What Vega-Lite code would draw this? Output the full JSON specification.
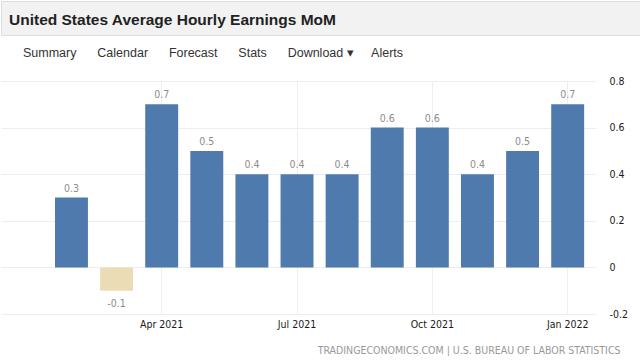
{
  "$schema": "https://vega.github.io/schema/vega-lite/v6.json",
  "padding": 0,
  "spacing": 10,
  "config": {"view": {"stroke": null}},
  "vconcat": [
    {
      "width": 640,
      "height": 34,
      "view": {"fill": "#f2f2f2", "stroke": "#dddddd"},
      "title": {"text": "United States Average Hourly Earnings MoM", "anchor": "start", "frame": "group", "orient": "top", "offset": -27, "dx": 8, "font": "Liberation Sans", "fontSize": 15.5, "fontWeight": "bold", "color": "#222222"},
      "data": {"values": []},
      "mark": "rule",
      "encoding": {}
    },
    {
      "width": 595,
      "height": 233,
      "title": {"text": "Summary\u00a0\u00a0\u00a0\u00a0\u00a0\u00a0Calendar\u00a0\u00a0\u00a0\u00a0\u00a0\u00a0Forecast\u00a0\u00a0\u00a0\u00a0\u00a0\u00a0Stats\u00a0\u00a0\u00a0\u00a0\u00a0\u00a0Download\u00a0\u25be\u00a0\u00a0\u00a0\u00a0\u00a0Alerts", "anchor": "start", "frame": "group", "offset": 17, "dx": 22, "font": "Liberation Sans", "fontSize": 12.5, "fontWeight": "normal", "color": "#333333"},
      "data": {"values": [
        {"month": "Feb 2021", "value": 0.3},
        {"month": "Mar 2021", "value": -0.1},
        {"month": "Apr 2021", "value": 0.7},
        {"month": "May 2021", "value": 0.5},
        {"month": "Jun 2021", "value": 0.4},
        {"month": "Jul 2021", "value": 0.4},
        {"month": "Aug 2021", "value": 0.4},
        {"month": "Sep 2021", "value": 0.6},
        {"month": "Oct 2021", "value": 0.6},
        {"month": "Nov 2021", "value": 0.4},
        {"month": "Dec 2021", "value": 0.5},
        {"month": "Jan 2022", "value": 0.7}
      ]},
      "encoding": {
        "x": {
          "field": "month", "type": "nominal", "sort": null,
          "scale": {"paddingInner": 0.27, "paddingOuter": 0.73, "align": 0.82},
          "axis": {
            "values": ["Apr 2021", "Jul 2021", "Oct 2021", "Jan 2022"],
            "labelAngle": 0, "domain": false, "ticks": false, "tickSize": 0,
            "grid": true, "gridColor": "#eeeeee", "bandPosition": 0.5,
            "labelPadding": 5, "labelFont": "DejaVu Sans Condensed, DejaVu Sans", "labelFontSize": 10.5, "labelColor": "#1a1a1a",
            "title": "TRADINGECONOMICS.COM | U.S. BUREAU OF LABOR STATISTICS",
            "titleFont": "DejaVu Sans Condensed, DejaVu Sans", "titleFontSize": 10.5, "titleFontWeight": "normal", "titleColor": "#999999",
            "titleX": 619, "titleAlign": "right", "titlePadding": 16
          }
        }
      },
      "layer": [
        {
          "mark": {"type": "bar"},
          "encoding": {
            "y": {
              "field": "value", "type": "quantitative",
              "scale": {"domain": [-0.2, 0.8], "nice": false, "zero": false},
              "axis": {
                "orient": "right", "values": [-0.2, 0, 0.2, 0.4, 0.6, 0.8],
                "labelExpr": "'' + datum.value",
                "domain": false, "ticks": false, "tickSize": 0, "grid": true, "gridColor": "#eeeeee",
                "labelPadding": 13, "labelFont": "DejaVu Sans Condensed, DejaVu Sans", "labelFontSize": 10.5, "labelColor": "#1a1a1a",
                "title": null
              }
            },
            "color": {"condition": {"test": "datum.value < 0", "value": "#ecdcb5"}, "value": "#4f7aad"}
          }
        },
        {
          "transform": [{"filter": "datum.value >= 0"}],
          "mark": {"type": "text", "baseline": "alphabetic", "dy": -6, "font": "DejaVu Sans Condensed, DejaVu Sans", "fontSize": 10.5, "color": "#8c8c8c"},
          "encoding": {
            "y": {"field": "value", "type": "quantitative"},
            "text": {"field": "value", "type": "nominal"}
          }
        },
        {
          "transform": [{"filter": "datum.value < 0"}],
          "mark": {"type": "text", "baseline": "alphabetic", "dy": 16, "font": "DejaVu Sans Condensed, DejaVu Sans", "fontSize": 10.5, "color": "#8c8c8c"},
          "encoding": {
            "y": {"field": "value", "type": "quantitative"},
            "text": {"field": "value", "type": "nominal"}
          }
        }
      ]
    }
  ]
}
